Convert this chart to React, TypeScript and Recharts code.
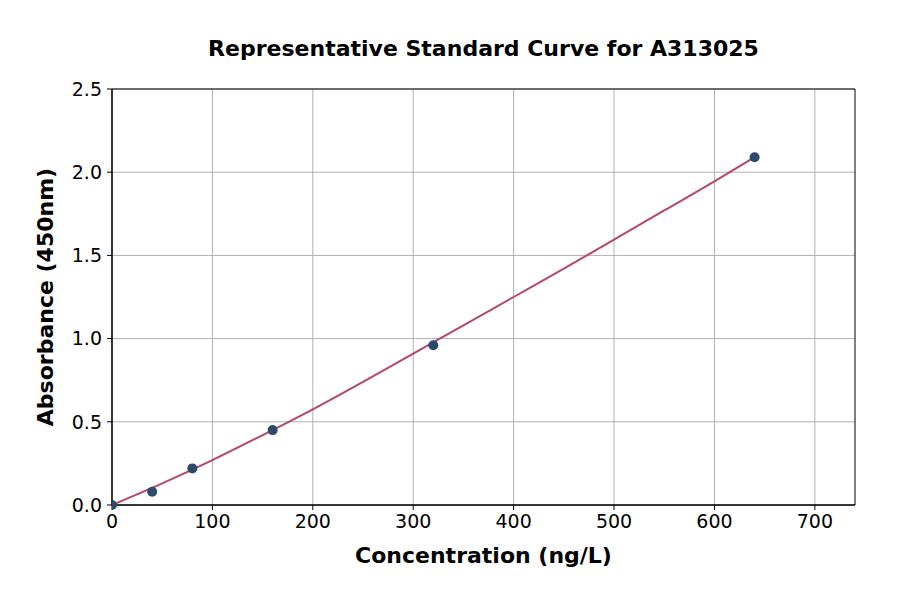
import React from 'react';
import {
    ComposedChart,
    Line,
    Scatter,
    XAxis,
    YAxis,
    CartesianGrid,
    ReferenceArea,
} from 'recharts';

// measured standards
const concentrations = [0, 40, 80, 160, 320, 640];
const absorbances = [0.0, 0.08, 0.22, 0.45, 0.96, 2.09];

// fitted curve
const curveX = [0, 50, 100, 150, 200, 250, 300, 350, 400, 450, 500, 550, 600, 640];
const curveY = [0, 0.13, 0.27, 0.42, 0.575, 0.74, 0.91, 1.08, 1.25, 1.42, 1.595, 1.77, 1.945, 2.09];

const xTicks = [0, 100, 200, 300, 400, 500, 600, 700];
const yTicks = [0, 0.5, 1.0, 1.5, 2.0, 2.5];

const points = concentrations.map((x, i) => ({ x, y: absorbances[i] }));
const curve = curveX.map((x, i) => ({ x, y: curveY[i] }));

const FONT = '"DejaVu Sans", sans-serif';
const tickStyle = { fill: '#000', fontSize: 19, fontFamily: FONT };

const App: React.FC = () => {
    return (
        <div style={{ position: 'absolute', left: 0, top: 0, width: 900, height: 594, background: '#fff', fontFamily: FONT }}>
            <div style={{ position: 'absolute', left: 112, width: 743, top: 35, textAlign: 'center', fontSize: 22, fontWeight: 'bold', lineHeight: '28px' }}>
                Representative Standard Curve for A313025
            </div>
            <div style={{ position: 'absolute', left: 112, width: 743, top: 542, textAlign: 'center', fontSize: 22, fontWeight: 'bold', lineHeight: '28px' }}>
                Concentration (ng/L)
            </div>
            <div
                style={{
                    position: 'absolute',
                    left: 46,
                    top: 297,
                    transform: 'translate(-50%, -50%) rotate(-90deg)',
                    whiteSpace: 'nowrap',
                    fontSize: 22,
                    fontWeight: 'bold',
                    lineHeight: '28px',
                }}
            >
                Absorbance (450nm)
            </div>
            <ComposedChart width={900} height={594} margin={{ top: 89, right: 45, bottom: 39, left: 52 }}>
                <CartesianGrid
                    xAxisId="main"
                    yAxisId="main"
                    stroke="#b0b0b0"
                    strokeWidth={1}
                    horizontalValues={yTicks}
                    verticalValues={xTicks}
                />
                <XAxis
                    xAxisId="main"
                    dataKey="x"
                    type="number"
                    domain={[0, 740]}
                    ticks={xTicks}
                    allowDataOverflow
                    height={50}
                    stroke="#000"
                    tickSize={5}
                    tickMargin={5}
                    tick={tickStyle}
                />
                <YAxis
                    yAxisId="main"
                    dataKey="y"
                    type="number"
                    domain={[0, 2.5]}
                    ticks={yTicks}
                    width={60}
                    stroke="#000"
                    tickSize={5}
                    tickMargin={5}
                    tick={tickStyle}
                    tickFormatter={(v: number) => v.toFixed(1)}
                />
                <ReferenceArea
                    xAxisId="main"
                    yAxisId="main"
                    x1={0}
                    x2={740}
                    y1={0}
                    y2={2.5}
                    fill="none"
                    fillOpacity={0}
                    stroke="#000"
                    strokeWidth={1}
                    ifOverflow="visible"
                />
                <Line
                    xAxisId="main"
                    yAxisId="main"
                    data={curve}
                    dataKey="y"
                    type="monotone"
                    stroke="#b5476b"
                    strokeWidth={2}
                    dot={false}
                    isAnimationActive={false}
                />
                <Scatter
                    xAxisId="main"
                    yAxisId="main"
                    data={points}
                    dataKey="y"
                    fill="#2d4a6e"
                    shape={(p: any) => <circle cx={p.cx} cy={p.cy} r={5} fill="#2d4a6e" />}
                    isAnimationActive={false}
                />
            </ComposedChart>
        </div>
    );
};

export default App;
